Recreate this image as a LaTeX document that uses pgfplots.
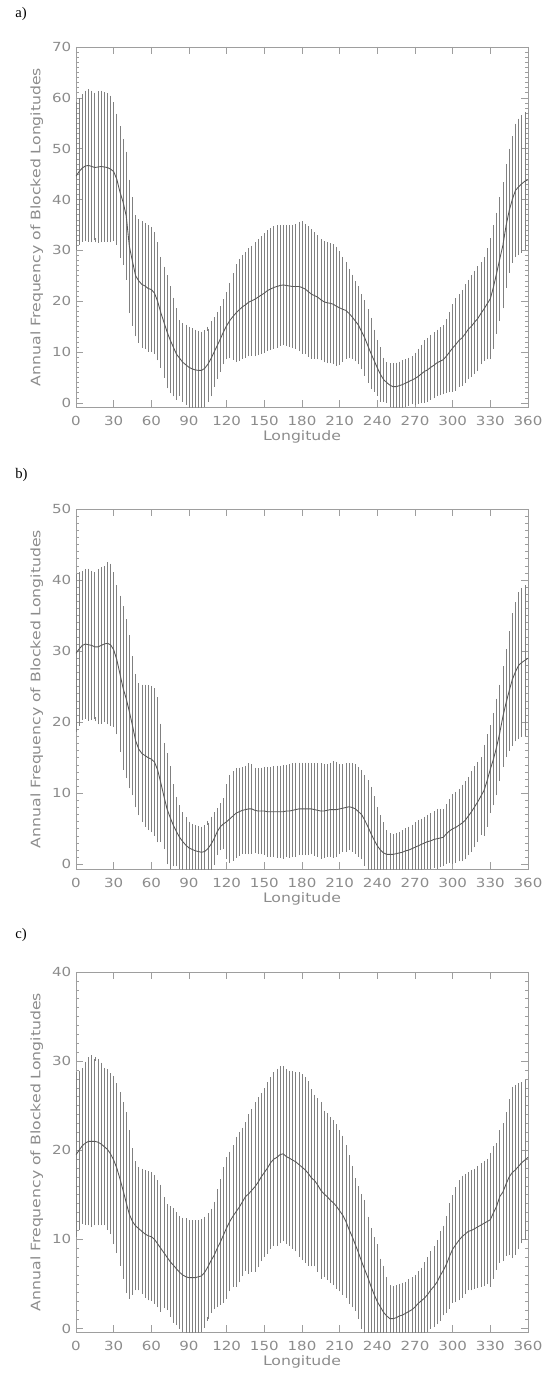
\documentclass[border=0pt]{standalone}
\usepackage{fontspec}
\usepackage{pgfplots}
\usepackage{pgfplotstable}
\pgfplotsset{compat=1.18}
\newfontfamily\idl[FakeStretch=1.2]{DejaVu Sans}
\newfontfamily\tnr{Liberation Serif}
\definecolor{axc}{gray}{0.62}
\definecolor{txc}{gray}{0.55}
\definecolor{barc}{gray}{0.5}
\definecolor{linec}{gray}{0.35}

% panel a: longitude, mean, half width of the bar
\pgfplotstableread{
x m e
0 44.6 14.1
2.5 45.5 14.0
5 46.2 14.1
7.5 46.6 14.4
10 46.7 14.6
12.5 46.5 14.5
15 46.3 14.3
17.5 46.4 14.5
20 46.5 14.5
22.5 46.4 14.3
25 46.3 14.2
27.5 46.0 14.0
30 45.5 13.2
32.5 44.0 12.5
35 41.5 12.5
37.5 39.5 12.0
40 36.8 12.2
42.5 30.8 12.7
45 27.8 12.2
47.5 25.0 11.5
50 24.0 11.7
52.5 23.3 12.0
55 23.0 12.0
57.5 22.5 12.0
60 22.3 11.9
62.5 21.6 11.6
65 20.0 11.2
67.5 17.8 10.5
70 15.9 10.5
72.5 14.0 10.7
75 12.4 10.1
77.5 11.0 9.3
80 9.6 8.6
82.5 8.8 7.0
85 8.0 7.3
87.5 7.5 7.5
90 7.0 7.6
92.5 6.7 7.6
95 6.5 7.5
97.5 6.4 7.4
100 6.4 7.2
102.5 6.8 7.1
105 7.6 7.0
107.5 8.7 7.0
110 10.0 6.4
112.5 11.3 6.2
115 12.6 6.0
117.5 14.0 6.0
120 15.2 6.2
122.5 16.2 7.0
125 17.0 8.1
127.5 17.7 9.2
130 18.3 9.6
132.5 18.9 9.8
135 19.3 10.0
137.5 19.8 10.2
140 20.1 10.4
142.5 20.4 10.8
145 20.8 11.0
147.5 21.2 11.2
150 21.6 11.4
152.5 22.1 11.4
155 22.4 11.5
157.5 22.7 11.6
160 22.9 11.6
162.5 23.1 11.4
165 23.2 11.4
167.5 23.1 11.4
170 23.0 11.5
172.5 22.9 11.7
175 22.9 11.9
177.5 22.9 12.3
180 22.7 12.6
182.5 22.4 12.4
185 21.9 12.4
187.5 21.4 12.3
190 21.1 12.0
192.5 20.8 11.8
195 20.3 11.5
197.5 19.9 11.5
200 19.7 11.5
202.5 19.6 11.4
205 19.4 11.4
207.5 19.0 11.3
210 18.7 10.8
212.5 18.4 9.9
215 18.2 9.1
217.5 17.6 8.4
220 16.9 7.9
222.5 16.1 7.5
225 15.3 7.3
227.5 14.0 7.0
230 12.8 7.0
232.5 11.2 6.8
235 9.7 6.6
237.5 8.3 5.7
240 6.9 5.1
242.5 5.6 4.9
245 4.6 3.9
247.5 4.0 3.6
250 3.5 3.9
252.5 3.2 4.2
255 3.2 4.3
257.5 3.4 4.3
260 3.6 4.4
262.5 3.9 4.3
265 4.2 4.3
267.5 4.5 4.3
270 4.8 4.7
272.5 5.2 5.0
275 5.7 5.3
277.5 6.2 5.7
280 6.5 5.9
282.5 7.0 6.0
285 7.4 6.1
287.5 7.9 6.1
290 8.2 6.3
292.5 8.5 6.4
295 9.2 6.8
297.5 10.0 7.5
300 10.8 8.2
302.5 11.5 8.7
305 12.3 8.7
307.5 12.8 9.0
310 13.6 9.3
312.5 14.5 9.3
315 15.1 9.6
317.5 15.9 9.7
320 16.6 9.9
322.5 17.6 9.6
325 18.5 9.8
327.5 19.5 10.5
330 20.5 11.5
332.5 22.8 11.8
335 25.5 11.5
337.5 28.3 11.8
340 31.0 12.0
342.5 34.8 11.8
345 37.8 11.8
347.5 40.0 12.0
350 41.8 12.7
352.5 42.5 13.0
355 43.1 13.1
357.5 43.6 13.2
360 43.9 13.4
}\tabA

% panel b
\pgfplotstableread{
x m e
0 29.7 10.8
2.5 30.3 10.5
5 30.8 10.2
7.5 31.0 10.2
10 30.9 10.4
12.5 30.8 10.2
15 30.6 10.2
17.5 30.6 10.6
20 30.8 10.7
22.5 31.0 10.7
25 31.1 11.1
27.5 30.9 11.1
30 30.2 10.6
32.5 28.8 10.2
35 26.8 10.7
37.5 24.8 11.2
40 23.3 10.9
42.5 21.5 10.5
45 19.5 9.5
47.5 17.4 9.1
50 16.2 9.0
52.5 15.6 9.4
55 15.3 9.7
57.5 15.0 9.9
60 14.8 10.0
62.5 14.4 10.1
65 13.3 9.9
67.5 11.5 8.0
70 9.6 7.2
72.5 7.8 7.5
75 6.6 6.9
77.5 5.5 5.5
80 4.6 4.6
82.5 3.8 4.2
85 3.2 3.8
87.5 2.7 3.6
90 2.3 3.4
92.5 2.1 3.3
95 1.9 3.3
97.5 1.8 3.3
100 1.7 3.3
102.5 1.8 3.4
105 2.2 3.6
107.5 2.8 3.6
110 3.6 3.4
112.5 4.6 3.0
115 5.3 3.0
117.5 5.7 3.3
120 6.0 5.0
122.5 6.4 5.9
125 6.8 6.0
127.5 7.2 6.0
130 7.4 5.9
132.5 7.6 5.8
135 7.7 5.9
137.5 7.8 6.1
140 7.8 6.0
142.5 7.6 5.7
145 7.5 5.7
147.5 7.5 5.8
150 7.5 5.9
152.5 7.4 6.0
155 7.4 6.0
157.5 7.4 6.1
160 7.4 6.2
162.5 7.4 6.2
165 7.4 6.3
167.5 7.5 6.2
170 7.5 6.3
172.5 7.6 6.3
175 7.7 6.3
177.5 7.8 6.2
180 7.8 6.2
182.5 7.8 6.2
185 7.8 6.2
187.5 7.8 6.1
190 7.7 6.2
192.5 7.6 6.3
195 7.5 6.4
197.5 7.5 6.3
200 7.6 6.2
202.5 7.7 6.3
205 7.7 6.5
207.5 7.7 6.4
210 7.8 6.0
212.5 7.9 5.9
215 8.0 5.9
217.5 8.1 5.8
220 8.0 5.9
222.5 7.8 6.0
225 7.4 6.0
227.5 7.0 6.0
230 6.2 6.1
232.5 5.3 6.2
235 4.3 6.3
237.5 3.4 5.9
240 2.6 5.2
242.5 2.0 4.6
245 1.6 4.0
247.5 1.4 3.1
250 1.4 2.7
252.5 1.4 2.6
255 1.5 2.6
257.5 1.6 2.6
260 1.7 2.8
262.5 1.9 2.9
265 2.0 3.0
267.5 2.2 3.1
270 2.4 3.2
272.5 2.6 3.3
275 2.8 3.3
277.5 3.0 3.4
280 3.2 3.5
282.5 3.3 3.6
285 3.5 3.7
287.5 3.6 3.9
290 3.7 3.8
292.5 3.8 3.7
295 4.3 3.9
297.5 4.7 4.2
300 5.0 4.6
302.5 5.2 4.7
305 5.5 4.8
307.5 5.8 5.1
310 6.2 5.2
312.5 6.8 5.2
315 7.4 5.4
317.5 8.1 5.4
320 8.8 5.3
322.5 9.6 5.2
325 10.4 6.1
327.5 11.8 6.2
330 13.4 5.9
332.5 14.8 6.2
335 16.5 6.5
337.5 18.5 6.5
340 20.8 6.8
342.5 22.7 7.3
345 24.4 8.1
347.5 26.0 9.0
350 27.1 9.5
352.5 28.0 10.0
355 28.4 10.2
357.5 28.7 10.3
360 29.0 10.5
}\tabB

% panel c
\pgfplotstableread{
x m e
0 19.5 9.0
2.5 20.0 8.7
5 20.5 8.5
7.5 20.8 8.9
10 21.0 9.2
12.5 21.0 9.4
15 21.0 9.2
17.5 20.9 9.1
20 20.7 8.9
22.5 20.4 8.6
25 20.1 8.8
27.5 19.6 8.8
30 18.9 9.2
32.5 18.0 9.3
35 16.8 9.5
37.5 15.5 9.7
40 14.1 9.9
42.5 12.8 9.2
45 12.0 8.0
47.5 11.5 7.0
50 11.2 6.7
52.5 10.9 6.8
55 10.6 6.9
57.5 10.4 7.0
60 10.3 7.0
62.5 10.0 7.0
65 9.5 6.9
67.5 9.0 6.9
70 8.5 6.0
72.5 8.0 5.7
75 7.5 6.0
77.5 7.1 6.2
80 6.7 6.1
82.5 6.3 6.1
85 6.0 6.2
87.5 5.8 6.3
90 5.7 6.2
92.5 5.7 6.2
95 5.7 6.2
97.5 5.8 6.1
100 5.9 6.1
102.5 6.3 6.0
105 6.9 5.8
107.5 7.6 5.6
110 8.2 5.8
112.5 9.0 6.4
115 9.7 6.8
117.5 10.5 7.4
120 11.3 7.7
122.5 12.0 7.6
125 12.6 7.7
127.5 13.1 8.2
130 13.6 8.2
132.5 14.2 8.1
135 14.8 8.1
137.5 15.1 8.7
140 15.5 8.9
142.5 15.9 9.3
145 16.4 9.3
147.5 17.0 9.2
150 17.5 9.2
152.5 18.0 9.4
155 18.6 9.4
157.5 19.0 9.5
160 19.2 9.7
162.5 19.5 9.7
165 19.6 9.6
167.5 19.3 9.6
170 19.1 9.6
172.5 18.9 9.7
175 18.7 9.8
177.5 18.4 10.1
180 18.1 10.2
182.5 17.8 10.2
185 17.4 10.1
187.5 16.9 9.7
190 16.6 9.4
192.5 16.1 9.5
195 15.5 9.7
197.5 15.1 9.1
200 14.8 9.1
202.5 14.4 9.1
205 14.1 9.0
207.5 13.7 9.0
210 13.2 8.8
212.5 12.7 8.7
215 12.0 8.3
217.5 11.1 8.1
220 10.3 7.7
222.5 9.4 7.2
225 8.5 7.2
227.5 7.5 7.3
230 6.6 7.6
232.5 5.7 6.6
235 4.7 6.3
237.5 3.8 6.2
240 3.0 6.2
242.5 2.4 5.2
245 1.8 5.0
247.5 1.4 4.1
250 1.1 3.5
252.5 1.1 3.4
255 1.2 3.4
257.5 1.4 3.4
260 1.5 3.4
262.5 1.7 3.3
265 1.9 3.4
267.5 2.1 3.4
270 2.4 3.4
272.5 2.8 3.4
275 3.1 3.5
277.5 3.4 3.8
280 3.8 4.0
282.5 4.3 4.1
285 4.7 4.3
287.5 5.2 4.5
290 5.9 4.8
292.5 6.5 4.8
295 7.2 5.2
297.5 8.1 5.7
300 8.9 5.8
302.5 9.4 6.2
305 9.9 6.5
307.5 10.3 6.6
310 10.6 6.5
312.5 10.9 6.4
315 11.0 6.5
317.5 11.2 6.5
320 11.4 6.6
322.5 11.6 6.7
325 11.8 6.8
327.5 12.0 6.8
330 12.2 7.3
332.5 13.0 7.2
335 13.7 6.9
337.5 14.8 7.2
340 15.3 7.5
342.5 16.2 7.8
345 17.0 8.5
347.5 17.5 9.4
350 17.8 9.3
352.5 18.2 9.1
355 18.6 8.8
357.5 18.9 8.7
360 19.2 9.0
}\tabC

\pgfplotsset{idlbox/.style={
  scale only axis, width=339pt, height=270pt,
  anchor=south west,
  xmin=0, xmax=360, xtick={0,30,...,360},
  ytick distance=10, minor y tick num=9,
  xtick pos=both, ytick pos=both, tick align=inside,
  major tick length=5pt, minor tick length=2.5pt,
  axis line style={axc, line width=0.6pt},
  tick style={axc, line width=0.5pt},
  tick label style={font=\idl\fontsize{9.4}{11}\selectfont, text=txc},
  xticklabel style={yshift=-3pt},
  label style={font=\idl\fontsize{9.8}{11}\selectfont, text=txc},
  xlabel style={yshift=3pt},
  /pgf/number format/assume math mode=true,
  xlabel={Longitude},
  ylabel={Annual Frequency of Blocked Longitudes},
  clip=true,
}}

\newcommand{\meanbars}[1]{%
  \addplot[draw=none, mark=none,
    error bars/.cd, y dir=both, y explicit,
    error bar style={draw=barc, line width=0.5pt},
    error mark options={draw=barc, mark size=1.6pt, line width=0.5pt}]
    table[x=x, y=m, y error=e] {#1};
  \addplot[draw=linec, line width=0.65pt, mark=none] table[x=x, y=m] {#1};
}

\begin{document}
\begin{tikzpicture}
\useasboundingbox (0,0) rectangle (406.5pt,-1031.25pt);

\node[anchor=west, font=\tnr\fontsize{11}{13}\selectfont] at (8pt,-10.5pt) {a)};
\node[anchor=west, font=\tnr\fontsize{11}{13}\selectfont] at (8pt,-356pt) {b)};
\node[anchor=west, font=\tnr\fontsize{11}{13}\selectfont] at (8pt,-701.25pt) {c)};

\begin{axis}[idlbox, at={(57pt,-305.25pt)}, ymin=-0.8, ymax=70]
\meanbars{\tabA}
\end{axis}

\begin{axis}[idlbox, at={(57pt,-651.75pt)}, ymin=-0.66, ymax=50]
\meanbars{\tabB}
\end{axis}

\begin{axis}[idlbox, at={(57pt,-999pt)}, ymin=-0.4, ymax=40]
\meanbars{\tabC}
\end{axis}
\end{tikzpicture}
\end{document}
